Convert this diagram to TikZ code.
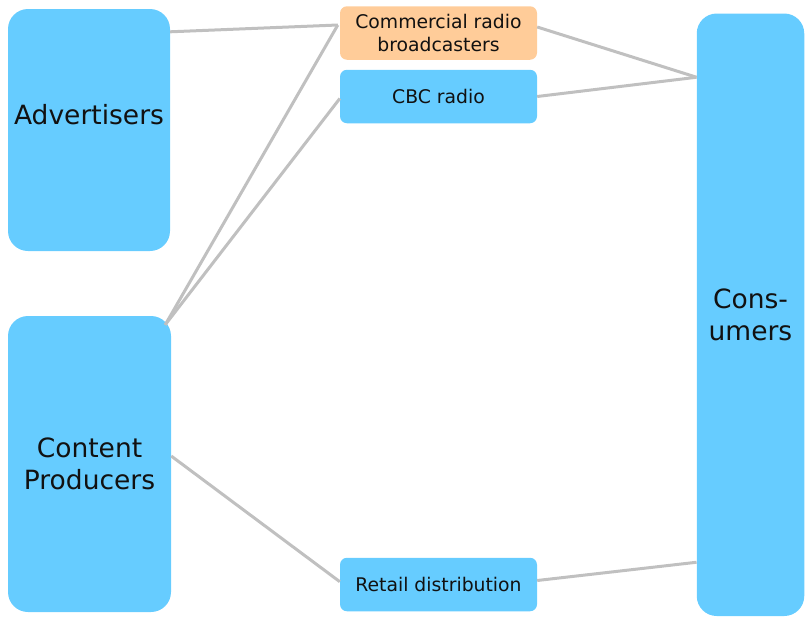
\documentclass[tikz,border=0pt]{standalone}
\usepackage{fontspec}
\setmainfont{DejaVu Sans}
\usepackage{xcolor}
\usepackage{tikz}
\usetikzlibrary{calc}
\definecolor{boxblue}{HTML}{66CCFF}
\definecolor{boxorange}{HTML}{FFCC99}
\definecolor{linkgray}{HTML}{C0C0C0}
\definecolor{txt}{HTML}{111111}

\begin{document}
\begin{tikzpicture}[x=1pt,y=-1pt,
		bigbox/.style={fill=boxblue,draw=none,rounded corners=20pt,inner sep=0pt,
			text=txt,align=center,font=\fontsize{26.5}{32}\selectfont},
		smallbox/.style={fill=boxblue,draw=none,rounded corners=7pt,inner sep=0pt,
			minimum width=197pt,minimum height=53.5pt,text=txt,align=center,
			font=\fontsize{18.8}{23}\selectfont},
		link/.style={draw=linkgray,line width=3pt}]
			\useasboundingbox (0,0) rectangle (807,619);

			% The actors
			\node[bigbox,minimum width=162pt,minimum height=242pt,
				label={[text=txt,font=\fontsize{26.5}{32}\selectfont,yshift=15pt]center:Advertisers}] (adv) at (89,130) {};
			\node[bigbox,minimum width=163pt,minimum height=296pt] (prod) at (89.5,464) {Content\\Producers};
			\node[bigbox,minimum width=107.5pt,minimum height=602.5pt] (cons) at (750.5,314.75) {Cons-\\umers};

			% The channels
			\node[smallbox,fill=boxorange] (comm) at (438.5,33) {Commercial radio\\broadcasters};
			\node[smallbox] (cbc) at (438.5,96.5) {CBC radio};
			\node[smallbox] (retail) at (438.5,584.5) {Retail distribution};

			% The links
			\draw[link] ([yshift=-23pt]adv.north east) -- ([xshift=-2pt,yshift=8pt]comm.west);
			\draw[link] ([xshift=-6pt,yshift=-9pt]prod.north east) -- ([xshift=-2pt,yshift=8pt]comm.west);
			\draw[link] ([xshift=-6pt,yshift=-9pt]prod.north east) -- ([yshift=-2pt]cbc.west);
			\draw[link] ([yshift=8pt]prod.east) -- ([yshift=2.8pt]retail.west);
			\draw[link] ([yshift=6pt]comm.east) -- ([yshift=237.5pt]cons.west);
			\draw[link] (cbc.east) -- ([yshift=237.5pt]cons.west);
			\draw[link] ([yshift=4pt]retail.east) -- ([yshift=-247.5pt]cons.west);
		\end{tikzpicture}
\end{document}
